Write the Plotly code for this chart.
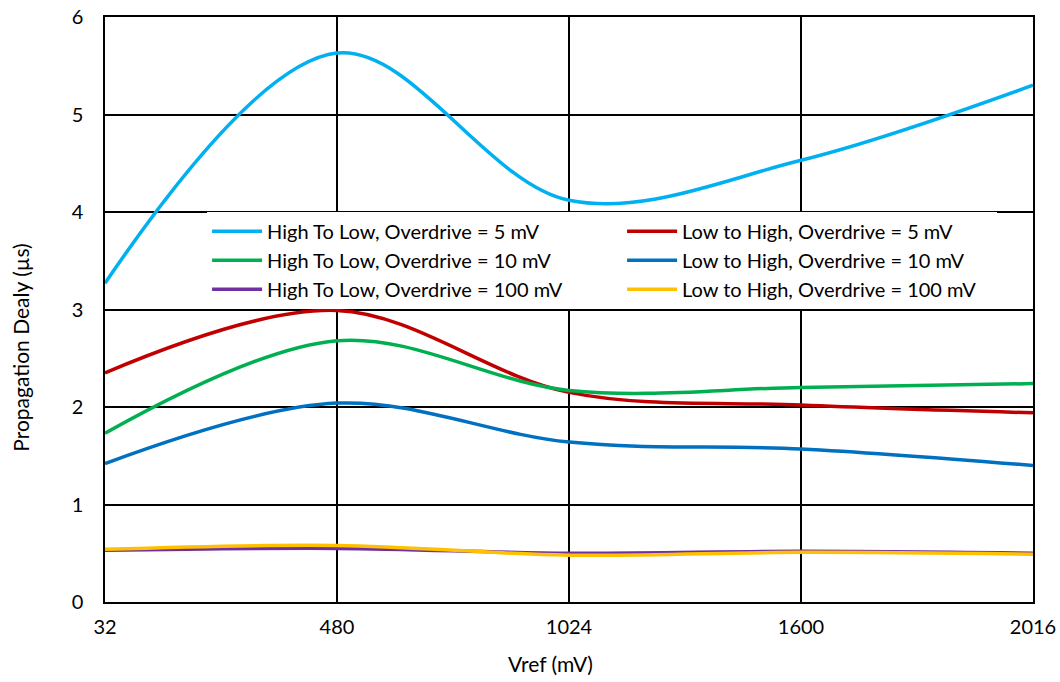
import plotly.graph_objects as go

vref = ["32", "480", "1024", "1600", "2016"]
htl_5 = [3.27, 5.63, 4.12, 4.53, 5.30]
lth_5 = [2.35, 2.99, 2.15, 2.02, 1.94]
htl_10 = [1.73, 2.68, 2.17, 2.20, 2.24]
lth_10 = [1.42, 2.04, 1.64, 1.57, 1.40]
htl_100 = [0.53, 0.55, 0.50, 0.52, 0.50]
lth_100 = [0.54, 0.58, 0.48, 0.51, 0.49]

series = [
    ("High To Low, Overdrive = 5 mV", htl_5, "#00B0F0"),
    ("Low to High, Overdrive = 5 mV", lth_5, "#C00000"),
    ("High To Low, Overdrive = 10 mV", htl_10, "#00B050"),
    ("Low to High, Overdrive = 10 mV", lth_10, "#0070C0"),
    ("High To Low, Overdrive = 100 mV", htl_100, "#7030A0"),
    ("Low to High, Overdrive = 100 mV", lth_100, "#FFC000"),
]

fig = go.Figure()
for i, (name, vals, color) in enumerate(series):
    fig.add_trace(go.Scatter(
        x=vref, y=vals, name=name, mode="lines",
        line=dict(color=color, width=3.5, shape="spline", smoothing=1),
        legendwidth=350 if i % 2 == 0 else 310,
    ))

font_family = "Lato, Open Sans, sans-serif"
fig.update_layout(
    width=1060, height=682,
    margin=dict(l=105, r=27, t=17, b=80),
    paper_bgcolor="white", plot_bgcolor="white",
    font=dict(family=font_family, size=20, color="black"),
    showlegend=True,
    legend=dict(
        orientation="h", x=0.11, y=0.667, xanchor="left", yanchor="top",
        bgcolor="white", entrywidthmode="pixels",
        font=dict(family=font_family, size=20, color="black"),
        itemwidth=50, tracegroupgap=0,
    ),
    xaxis=dict(
        type="category", range=[0, 4], showgrid=True, gridcolor="black",
        gridwidth=1.5, showline=True, linecolor="black", linewidth=1.5,
        mirror=True, ticks="", tickfont=dict(size=20), automargin=False,
        ticklabelstandoff=6,
    ),
    yaxis=dict(
        range=[0, 6], dtick=1, showgrid=True, gridcolor="black",
        gridwidth=1.5, showline=True, linecolor="black", linewidth=1.5,
        mirror=True, ticks="", zeroline=True, zerolinecolor="black",
        zerolinewidth=2.5, tickfont=dict(size=20), automargin=False,
        ticklabelstandoff=16,
    ),
    annotations=[
        dict(text="Vref (mV)", xref="paper", yref="paper", x=0.48, y=-0.105,
             xanchor="center", yanchor="middle", showarrow=False,
             font=dict(size=21)),
        dict(text="Propagation Dealy (µs)", xref="paper", yref="paper",
             x=-0.092, y=0.434, xanchor="center", yanchor="middle",
             textangle=-90, showarrow=False, font=dict(size=21)),
    ],
)

fig.write_html("out.html", config={"displayModeBar": False},
               post_script="document.body.style.margin='0';")
